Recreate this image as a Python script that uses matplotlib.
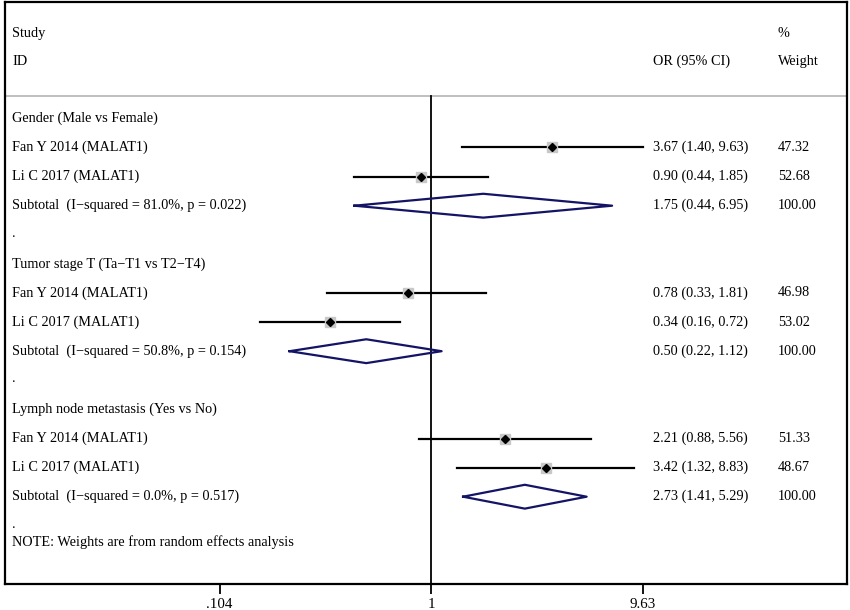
import matplotlib
matplotlib.use("Agg")
import matplotlib.pyplot as plt
import matplotlib.transforms as mtransforms
import numpy as np

plt.rcParams['font.family'] = ['Liberation Serif', 'DejaVu Serif']

# ---- data ----
groups = ["Gender (Male vs Female)",
          "Tumor stage T (Ta\u2212T1 vs T2\u2212T4)",
          "Lymph node metastasis (Yes vs No)"]
studies = ["Fan Y 2014 (MALAT1)", "Li C 2017 (MALAT1)"]
study_or = [[3.67, 0.90], [0.78, 0.34], [2.21, 3.42]]
study_lo = [[1.40, 0.44], [0.33, 0.16], [0.88, 1.32]]
study_hi = [[9.63, 1.85], [1.81, 0.72], [5.56, 8.83]]
study_w = [["47.32", "52.68"], ["46.98", "53.02"], ["51.33", "48.67"]]
sub_or = [1.75, 0.50, 2.73]
sub_lo = [0.44, 0.22, 1.41]
sub_hi = [6.95, 1.12, 5.29]
sub_i2 = ["81.0%", "50.8%", "0.0%"]
sub_p = ["0.022", "0.154", "0.517"]
tick_vals = [0.104, 1, 9.63]
tick_labels = [".104", "1", "9.63"]

W, H = 850, 610
fig = plt.figure(figsize=(W / 100, H / 100), dpi=100)
ax = fig.add_axes([5 / W, 1 - 584 / H, (847 - 5) / W, (584 - 2) / H])
ax.set_xscale('log')
ax.set_xlim(0.01046, 85.9)
ax.set_ylim(16.0, -4.0)

for s in ['left', 'right', 'top', 'bottom']:
    ax.spines[s].set_linewidth(1.6)
    ax.spines[s].set_color('black')
ax.set_yticks([])
ax.set_xticks(tick_vals)
ax.set_xticklabels(tick_labels)
ax.xaxis.set_minor_locator(matplotlib.ticker.NullLocator())
ax.tick_params(axis='x', direction='out', length=7, width=1.3, labelsize=10.8, pad=3)

trans = mtransforms.blended_transform_factory(ax.transAxes, ax.transData)
fs = 10.3
x_lab = (12 - 5) / (847 - 5)
x_or = (653 - 5) / (847 - 5)
x_w = (778 - 5) / (847 - 5)

# header
ax.text(x_lab, -2.92, "Study", transform=trans, fontsize=fs, va='center')
ax.text(x_lab, -1.96, "ID", transform=trans, fontsize=fs, va='center')
ax.text(x_or, -1.96, "OR (95% CI)", transform=trans, fontsize=fs, va='center')
ax.text(x_w, -2.92, "%", transform=trans, fontsize=fs, va='center')
ax.text(x_w, -1.96, "Weight", transform=trans, fontsize=fs, va='center')
ax.axhline(-0.76, color='#b4b4b4', lw=1.2)

# null line
ax.plot([1, 1], [-0.76, 16.0], color='black', lw=1.3, zorder=2)

navy = '#141466'
for g in range(3):
    base = g * 5
    ax.text(x_lab, base, groups[g], transform=trans, fontsize=fs, va='center')
    for k in range(2):
        y = base + 1 + k
        ax.text(x_lab, y, studies[k], transform=trans, fontsize=fs, va='center')
        ax.plot([study_lo[g][k], study_hi[g][k]], [y, y], color='black', lw=1.6, zorder=3)
        ax.plot([study_or[g][k]], [y], marker='s', ms=6.5, color='#c8c8c8', mec='#c8c8c8', zorder=4)
        ax.plot([study_or[g][k]], [y], marker='D', ms=4, color='black', zorder=5)
        ax.text(x_or, y, f"{study_or[g][k]:.2f} ({study_lo[g][k]:.2f}, {study_hi[g][k]:.2f})",
                transform=trans, fontsize=fs, va='center')
        ax.text(x_w, y, study_w[g][k], transform=trans, fontsize=fs, va='center')
    y = base + 3
    ax.text(x_lab, y, f"Subtotal  (I\u2212squared = {sub_i2[g]}, p = {sub_p[g]})",
            transform=trans, fontsize=fs, va='center')
    h = 0.41
    ax.plot([sub_lo[g], sub_or[g], sub_hi[g], sub_or[g], sub_lo[g]],
            [y, y - h, y, y + h, y], color=navy, lw=1.6, zorder=3)
    ax.text(x_or, y, f"{sub_or[g]:.2f} ({sub_lo[g]:.2f}, {sub_hi[g]:.2f})",
            transform=trans, fontsize=fs, va='center')
    ax.text(x_w, y, "100.00", transform=trans, fontsize=fs, va='center')
    ax.text(x_lab, base + 3.95, ".", transform=trans, fontsize=fs, va='center')

ax.text(x_lab, 14.57, "NOTE: Weights are from random effects analysis",
        transform=trans, fontsize=fs, va='center')

fig.savefig("out.png", dpi=100)
